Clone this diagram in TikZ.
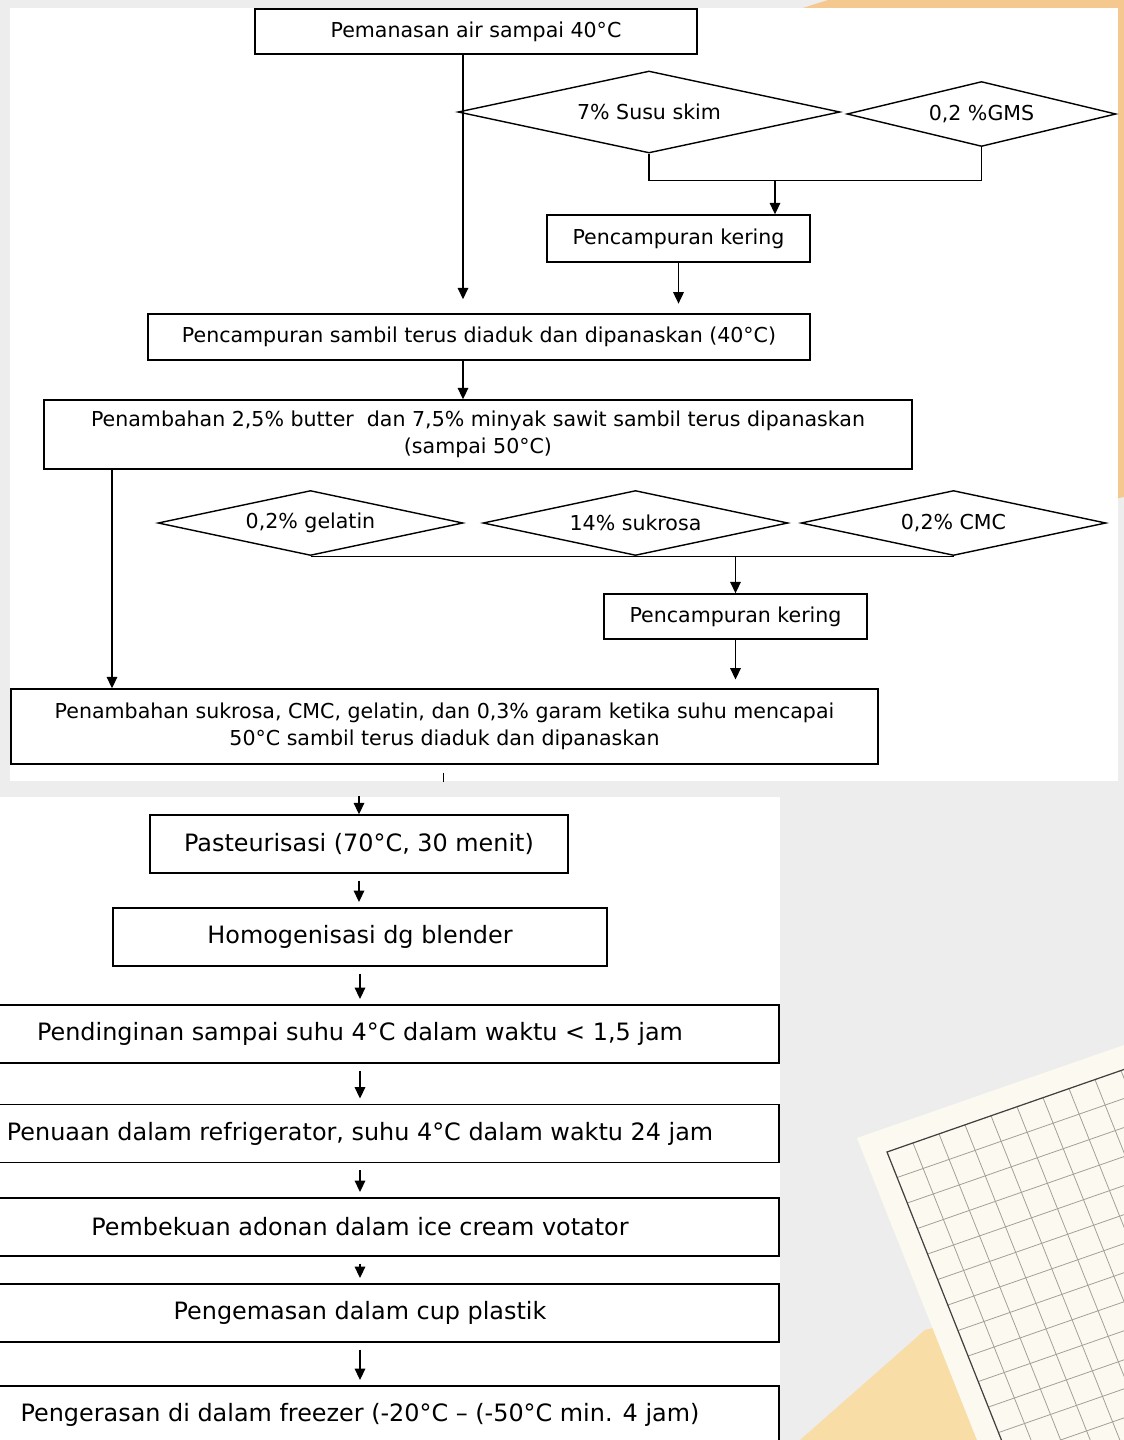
\documentclass[tikz,border=0pt]{standalone}
\usepackage{fontspec}
\setmainfont{DejaVu Sans}
\usetikzlibrary{shapes.geometric,arrows.meta,calc}
\definecolor{bggray}{HTML}{EDEDED}
\definecolor{peach}{HTML}{F4C88E}
\definecolor{sand}{HTML}{F8DDA6}
\definecolor{cream}{HTML}{FCFAF0}
\definecolor{gridgray}{HTML}{A0A098}

\begin{document}
\begin{tikzpicture}[x=0.02cm, y=-0.02cm,
    box/.style={draw, rectangle, fill=white, line width=0.8pt, inner sep=0pt, align=center, font=\fontsize{11.7}{15.5}\selectfont},
    bigbox/.style={box, minimum height=1.16cm, font=\fontsize{13.6}{16}\selectfont},
    ingr/.style={draw, diamond, fill=white, line width=0.8pt, inner sep=0pt, aspect=4.5, font=\fontsize{11.7}{14}\selectfont},
    link/.style={line width=0.8pt},
    arr/.style={link, -{Triangle[length=6.5pt,width=6pt]}}]
    % Background
    \useasboundingbox (0,0) rectangle (1124,1440);
    \clip (0,0) rectangle (1124,1440);
    \fill[bggray] (0,0) rectangle (1124,1440);
    \fill[peach] (790,12) -- (828,0) -- (1124,0) -- (1124,497) -- (900,540) -- cycle;
    \fill[sand] (800,1440) -- (925,1330) -- (1050,1300) -- (1050,1440) -- cycle;

    % Grid paper
    \coordinate (pa) at (857,1138);
    \coordinate (pg) at (887,1152);
    \fill[cream] (pa) -- ++(534,-186) -- ++(180,453) -- ($(pa)+(180,453)$) -- cycle;
    \begin{scope}
        \clip (pg) -- ++(534,-186) -- ++(180,453) -- ($(pg)+(180,453)$) -- cycle;
        \foreach \k in {1,...,14} {
            \draw[gridgray, line width=0.45pt] ($(pg)+\k*(26,-9.05)$) -- ++(180,453);
            \draw[gridgray, line width=0.45pt] ($(pg)+\k*(10.15,25.5)$) -- ++(534,-186);
        }
    \end{scope}
    \draw[black!75, line width=0.7pt] ($(pg)+(534,-186)$) -- (pg) -- ($(pg)+(180,453)$);

    % Panels
    \fill[white] (10,8) rectangle (1118,781);
    \fill[white] (0,797) rectangle (780,1440);

    % Top panel
    \node[box, minimum width=8.84cm, minimum height=0.9cm] (warm) at (476,31.5) {Pemanasan air sampai 40°C};
    \node[ingr, minimum width=7.64cm, minimum height=1.64cm] (skim) at (649,112) {7\% Susu skim};
    \node[ingr, minimum width=5.38cm, minimum height=1.3cm] (gms) at (981.5,114) {0,2 \%GMS};
    \node[box, minimum width=5.26cm, minimum height=0.94cm] (drya) at (678.5,238.5) {Pencampuran kering};
    \node[box, minimum width=13.24cm, minimum height=0.92cm] (mixa) at (479,337) {Pencampuran sambil terus diaduk dan dipanaskan (40°C)};
    \node[box, minimum width=17.36cm, minimum height=1.38cm] (butter) at (478,434.5) {Penambahan 2,5\% butter~ dan 7,5\% minyak sawit sambil terus dipanaskan\\(sampai 50°C)};
    \node[ingr, minimum width=6.1cm, minimum height=1.3cm] (gelatin) at (310.5,523) {0,2\% gelatin};
    \node[ingr, minimum width=6.1cm, minimum height=1.3cm] (sukrosa) at (635.5,523) {14\% sukrosa};
    \node[ingr, minimum width=6.1cm, minimum height=1.3cm] (cmc) at (953.5,523) {0,2\% CMC};
    \node[box, minimum width=5.26cm, minimum height=0.9cm] (dryb) at (735.5,616.5) {Pencampuran kering};
    \node[box, minimum width=17.34cm, minimum height=1.5cm] (mixb) at (444.5,726.5) {Penambahan sukrosa, CMC, gelatin, dan 0,3\% garam ketika suhu mencapai\\50°C sambil terus diaduk dan dipanaskan};
    \coordinate (trunk) at (463,0);
    \coordinate (side) at (112,0);

    \draw[arr, shorten >=8pt] (warm.south -| trunk) -- (mixa.north -| trunk);
    \draw[link] (skim.south) -- ++(0,27) -| (gms.south);
    \coordinate (joina) at ($(skim.south)+(126,27)$);
    \draw[arr] (joina) -- (joina |- drya.north);
    \draw[arr, shorten >=5.5pt] (drya.south) -- (drya.south |- mixa.north);
    \draw[arr] (mixa.south -| trunk) -- (butter.north -| trunk);
    \draw[arr] (butter.south -| side) -- (mixb.north -| side);
    \draw[link] (gelatin.south) -- (cmc.south);
    \draw[arr] (gelatin.south -| dryb) -- (dryb.north);
    \draw[arr, shorten >=5pt] (dryb.south) -- (dryb.south |- mixb.north);
    \draw[link] ($(mixb.south)+(-1,8)$) -- ($(mixb.south)+(-1,17)$);

    % Bottom panel
    \node[bigbox, minimum width=8.36cm] (pasteur) at (359,844) {Pasteurisasi (70°C, 30 menit)};
    \node[bigbox, minimum width=9.88cm] (homog) at (360,937) {Homogenisasi dg blender};
    \node[bigbox, minimum width=16.76cm] (cool) at (360,1034) {Pendinginan sampai suhu 4°C dalam waktu < 1,5 jam};
    \node[bigbox, minimum width=16.76cm] (aging) at (360,1133.5) {Penuaan dalam refrigerator, suhu 4°C dalam waktu 24 jam};
    \node[bigbox, minimum width=16.76cm] (freeze) at (360,1227) {Pembekuan adonan dalam ice cream votator};
    \node[bigbox, minimum width=16.76cm] (pack) at (360,1313) {Pengemasan dalam cup plastik};
    \node[bigbox, minimum width=16.76cm] (harden) at (360,1415) {Pengerasan di dalam freezer (-20°C – (-50°C min. 4 jam)};

    \draw[arr] ($(pasteur.north)+(0,-18)$) -- (pasteur.north);
    \foreach \a/\b in {pasteur/homog, homog/cool, cool/aging, aging/freeze, freeze/pack, pack/harden}
        \draw[arr, shorten <=4pt, shorten >=3pt] (\a.south) -- (\a.south |- \b.north);
\end{tikzpicture}
\end{document}
